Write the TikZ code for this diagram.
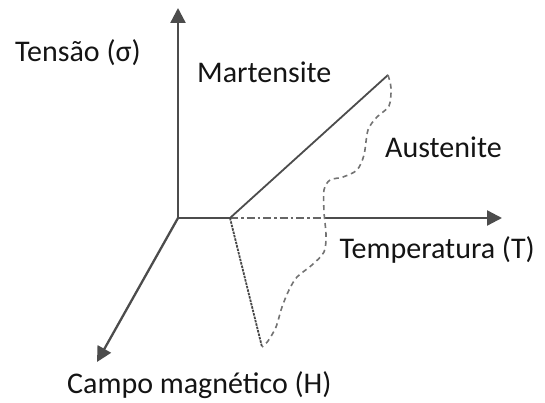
\documentclass[tikz,border=0pt]{standalone}
\usepackage{fontspec}
\setmainfont{Carlito}
\usetikzlibrary{arrows.meta}

\begin{document}
\begin{tikzpicture}[x=1pt, y=-1pt,
  axis/.style={line width=2.3pt, draw=black!70, -{Triangle[length=15pt, width=15pt]}},
  axisline/.style={line width=2.3pt, draw=black!70},
  dashdot/.style={line width=2.3pt, draw=black!60, dash pattern=on 8pt off 3pt on 2.5pt off 3pt},
  edge/.style={line width=1.8pt, draw=black!70},
  fineedge/.style={line width=1.8pt, draw=black!72, dash pattern=on 2.5pt off 1pt},
  boundary/.style={line width=1.6pt, draw=black!55, dash pattern=on 5pt off 4pt},
  lbl/.style={font=\fontsize{30}{35}\selectfont, text=black!92, inner sep=0pt}]

\useasboundingbox (0,0) rectangle (545,403);

% axes
\coordinate (O) at (178,218);
\coordinate (sigtop) at (178,8);
\coordinate (Htip) at (97,362);
\coordinate (A) at (230,218);
\coordinate (B) at (325,218);
\coordinate (Ttip) at (502,218);
\coordinate (P) at (388,75);
\coordinate (Q) at (262,347);

\draw[axis] (O) -- (sigtop);
\draw[axis] (O) -- (Htip);
\draw[axisline] (O) -- (A);
\draw[dashdot] (A) -- (B);
\draw[axis] (B) -- (Ttip);

% phase boundary
\draw[edge] (A) -- (P);
\draw[fineedge] (A) -- (Q);
\draw[boundary] plot[smooth, tension=0.5] coordinates {(P) (391,88) (389,106) (377,117) (368,130) (364,155) (357,170) (343,177) (330,180) (324,190) (324,212) (326,235) (324,252) (312,265) (297,277) (289,290) (282,307) (276,327) (268,341) (Q)};

% labels
\node[lbl, anchor=base west] (sigma) at (15,62) {Tensão (σ)};
\node[lbl, anchor=base west] (mart) at (197,83) {Martensite};
\node[lbl, anchor=base west] (aust) at (385,158) {Austenite};
\node[lbl, anchor=base east] (temp) at (535,258) {Temperatura (T)};
\node[lbl, anchor=base west] (campo) at (67,393) {Campo magnético (H)};
\end{tikzpicture}
\end{document}
